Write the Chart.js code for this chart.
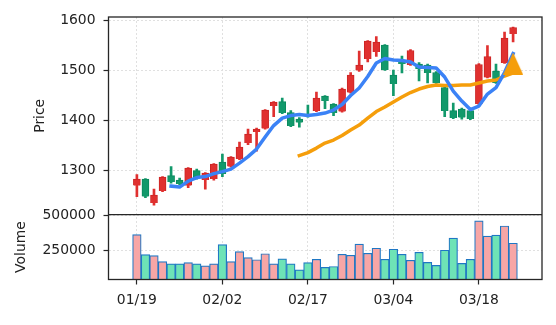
<!DOCTYPE html>
<html>
<head>
<meta charset="utf-8">
<script src="https://cdn.jsdelivr.net/npm/chart.js@4/dist/chart.umd.min.js"></script>
<style>
  html, body { margin: 0; padding: 0; background: #fff; }
  canvas { display: block; }
</style>
</head>
<body>
<canvas id="chart" width="556" height="325"></canvas>
<script>
// daily candles, one row per trading day
const dates = ['01/19','01/20','01/21','01/22','01/25','01/26','01/27','01/28','01/29','02/01',
  '02/02','02/03','02/04','02/05','02/08','02/09','02/10','02/11','02/12','02/16',
  '02/17','02/18','02/19','02/22','02/23','02/24','02/25','03/01','03/02','03/03',
  '03/04','03/05','03/08','03/09','03/10','03/11','03/12','03/15','03/16','03/17',
  '03/18','03/19','03/22','03/23','03/24']
const opens = [1270,1283,1235,1259,1290,1281,1270,1300,1281,1283,
  1317,1308,1323,1355,1377,1384,1429,1438,1416,1403,
  1412,1419,1449,1433,1418,1456,1500,1523,1537,1551,
  1491,1519,1511,1513,1511,1496,1466,1420,1423,1420,
  1433,1486,1499,1515,1573]
const highs = [1292,1284,1263,1288,1308,1285,1306,1303,1296,1314,
  1333,1328,1357,1383,1385,1422,1438,1445,1420,1406,
  1431,1457,1450,1434,1465,1496,1539,1560,1568,1552,
  1501,1529,1542,1516,1513,1498,1468,1435,1425,1425,
  1514,1550,1513,1577,1587]
const lows = [1248,1246,1231,1258,1275,1272,1266,1283,1263,1281,
  1288,1307,1322,1352,1339,1383,1408,1414,1388,1387,
  1407,1418,1424,1410,1417,1455,1498,1517,1528,1500,
  1450,1495,1510,1479,1475,1474,1408,1404,1403,1402,
  1432,1485,1474,1514,1557]
const closes = [1283,1248,1251,1287,1277,1273,1305,1285,1295,1313,
  1293,1327,1347,1373,1383,1421,1437,1415,1389,1396,
  1409,1445,1439,1415,1463,1491,1511,1559,1557,1501,
  1473,1513,1540,1503,1495,1475,1419,1405,1406,1403,
  1512,1528,1475,1565,1586]
const volumes = [365000,221000,214000,171000,156000,156000,164000,156000,142000,156000,
  293000,171000,243000,200000,185000,228000,156000,192000,156000,113000,
  164000,188000,130000,137000,224000,217000,296000,231000,267000,188000,
  260000,224000,181000,238000,166000,145000,253000,339000,159000,188000,
  462000,354000,361000,426000,303000]
const ma5 = [null,null,null,null,1269,1267,1279,1286,1288,1294,
  1298,1303,1315,1328,1343,1367,1390,1405,1410,1412,
  1410,1412,1415,1421,1432,1450,1465,1488,1515,1524,
  1521,1520,1517,1507,1506,1505,1487,1459,1439,1422,
  1429,1453,1466,1496,1534]
const ma20 = [null,null,null,null,null,null,null,null,null,null,
  null,null,null,null,null,null,null,null,null,1330,
  1336,1345,1355,1361,1370,1381,1391,1405,1418,1427,
  1437,1447,1456,1463,1468,1471,1470,1470,1471,1471,
  1475,1479,1481,1489,1495]
const signal = [44, 1514]   // triangle marker at the end

const tickIdx = [0, 10, 20, 30, 40]
const priceTicks = [1300, 1400, 1500, 1600]
const volTicks = [250000, 500000]

const RED = '#e0302f', RED_EDGE = '#cc2424'
const GRN = '#12996b', GRN_EDGE = '#0b8a5e'
const PINK = '#f7a6a6', MINT = '#6ee3b6', VOL_EDGE = '#1f77c4'
const BLUE = '#3b82f6', ORANGE = '#f59e0b'
const INK = '#262626', GRID = '#e0e0e0'

const up = closes.map((c, i) => c >= opens[i])
const pts = arr => arr.map((v, i) => v == null ? null : {x: i, y: v}).filter(p => p)

// triangle picture for the marker
const tri = document.createElement('canvas')
tri.width = 20; tri.height = 22
const tc = tri.getContext('2d')
tc.fillStyle = ORANGE
tc.beginPath(); tc.moveTo(10, 0); tc.lineTo(20, 22); tc.lineTo(0, 22); tc.closePath(); tc.fill()

Chart.defaults.font.family = 'DejaVu Sans'
Chart.defaults.font.size = 13.9
Chart.defaults.color = '#222'

const frame = {
  id: 'frame',
  afterDatasetsDraw(chart) {
    const {ctx, chartArea: a} = chart
    const yv = chart.scales.yv
    ctx.save()
    ctx.strokeStyle = INK
    ctx.lineWidth = 1.3
    ctx.strokeRect(a.left, a.top, a.right - a.left, a.bottom - a.top)
    ctx.beginPath()
    ctx.moveTo(a.left, yv.top)
    ctx.lineTo(a.right, yv.top)
    ctx.stroke()
    ctx.restore()
  }
}

const gridOpts = {color: GRID, lineWidth: 1, tickColor: INK, tickLength: 5, tickWidth: 1.2}

new Chart(document.getElementById('chart'), {
  type: 'bar',
  data: {
    datasets: [
      {type: 'line', data: [{x: signal[0], y: signal[1]}], yAxisID: 'y', showLine: false,
        pointStyle: tri, pointRadius: 10, order: 0},
      {type: 'line', data: pts(ma5), yAxisID: 'y', borderColor: BLUE, borderWidth: 3.5,
        pointRadius: 0, tension: 0, borderCapStyle: 'square', borderJoinStyle: 'round', order: 1},
      {type: 'line', data: pts(ma20), yAxisID: 'y', borderColor: ORANGE, borderWidth: 3.5,
        pointRadius: 0, tension: 0, borderCapStyle: 'square', borderJoinStyle: 'round', order: 1},
      {data: opens.map((o, i) => ({x: i, y: [o, closes[i]]})), yAxisID: 'y',
        backgroundColor: up.map(u => u ? RED : GRN), borderColor: up.map(u => u ? RED_EDGE : GRN_EDGE),
        borderWidth: 1, barThickness: 7, minBarLength: 2, order: 2},
      {data: lows.map((l, i) => ({x: i, y: [l, highs[i]]})), yAxisID: 'y',
        backgroundColor: up.map(u => u ? RED : GRN), borderWidth: 0, barThickness: 2, order: 3},
      {data: volumes.map((v, i) => ({x: i, y: v})), yAxisID: 'yv',
        backgroundColor: up.map(u => u ? PINK : MINT), borderColor: VOL_EDGE,
        borderWidth: 1.2, barThickness: 8.55, order: 4}
    ]
  },
  options: {
    responsive: false,
    animation: false,
    devicePixelRatio: 1,
    layout: {padding: {top: 17, right: 14, bottom: 0, left: 0}},
    datasets: {bar: {grouped: false}},
    plugins: {legend: {display: false}, tooltip: {enabled: false}},
    scales: {
      x: {
        type: 'linear', min: -3.32, max: 47.38, offset: false,
        grid: Object.assign({offset: false}, gridOpts),
        border: {display: false, dash: [2, 2]},
        afterBuildTicks: s => { s.ticks = tickIdx.map(v => ({value: v})) },
        afterFit: s => { s.height = 45.5 },
        ticks: {padding: 8, maxRotation: 0, callback: v => dates[v]}
      },
      y: {
        position: 'left', stack: 'panels', stackWeight: 3.046, weight: 2,
        min: 1212, max: 1607,
        grid: gridOpts,
        border: {display: false, dash: [2, 2]},
        afterBuildTicks: s => { s.ticks = priceTicks.map(v => ({value: v})) },
        afterFit: s => { s.width = 108.5 },
        ticks: {padding: 8, callback: v => String(v)},
        title: {display: true, text: 'Price', padding: {top: 32.5, bottom: 0}}
      },
      yv: {
        position: 'left', stack: 'panels', stackWeight: 1, weight: 1,
        min: 44000, max: 507000,
        grid: gridOpts,
        border: {display: false, dash: [2, 2]},
        afterBuildTicks: s => { s.ticks = volTicks.map(v => ({value: v})) },
        afterFit: s => { s.width = 108.5 },
        ticks: {padding: 8, callback: v => String(v)},
        title: {display: true, text: 'Volume', padding: {top: 13.5, bottom: 0}}
      }
    }
  },
  plugins: [frame]
})
</script>
</body>
</html>
